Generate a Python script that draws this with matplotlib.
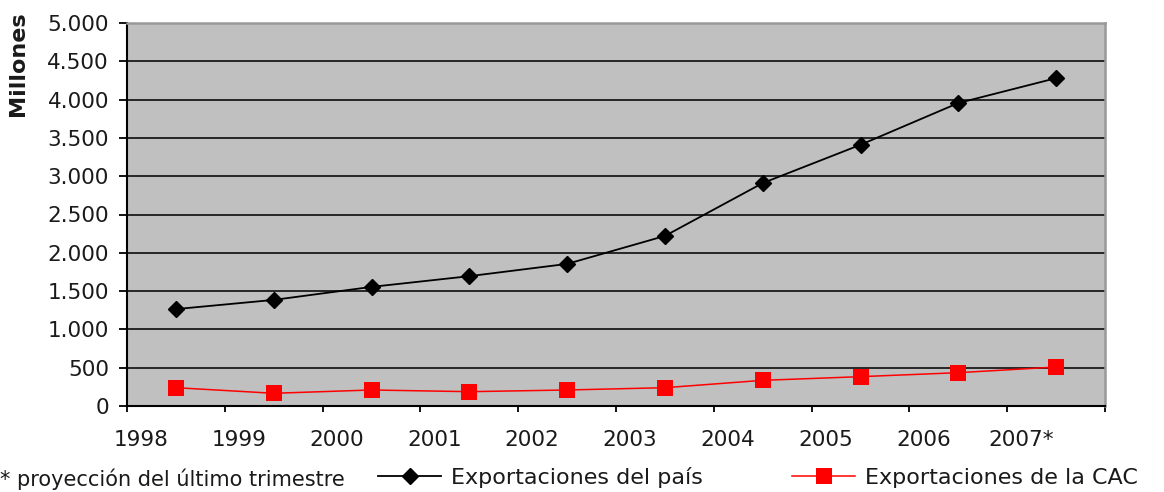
import matplotlib
matplotlib.use("Agg")
import matplotlib.pyplot as plt
from matplotlib.ticker import FuncFormatter, FixedLocator
from matplotlib.lines import Line2D

years = ["1998", "1999", "2000", "2001", "2002", "2003", "2004", "2005", "2006", "2007*"]
export_pais = [1265, 1385, 1555, 1695, 1855, 2220, 2910, 3410, 3955, 4280]
export_cac = [239, 166, 209, 187, 209, 239, 335, 383, 435, 509]
yticks = list(range(0, 5001, 500))

plt.rcParams['font.family'] = ['DejaVu Sans']
FS = 15.5

fig = plt.figure(figsize=(11.64, 4.92), dpi=100)
ax = fig.add_axes([127/1164, 1-406/492, (1105-127)/1164, (406-23)/492])
ax.set_facecolor('#C0C0C0')

xs = [i + 0.5 for i in range(len(years))]
ax.plot(xs, export_pais, color='black', lw=1.3, marker='D', ms=8.5,
        mfc='black', mec='black', zorder=4)
ax.plot(xs, export_cac, color='#FF0000', lw=1.1, marker='s', ms=11,
        mfc='#FF0000', mec='#FF0000', mew=0, zorder=4)

ax.set_xlim(0, len(years))
ax.set_ylim(0, 5000)
ax.set_yticks(yticks)
ax.yaxis.set_major_formatter(FuncFormatter(lambda v, p: f"{int(v):,}".replace(",", ".")))
ax.grid(axis='y', color='#1a1a1a', lw=1.3, zorder=1)
ax.set_axisbelow(True)

ax.set_xticks(range(len(years) + 1))
ax.set_xticklabels([])
ax.xaxis.set_minor_locator(FixedLocator([i + 0.143 for i in range(len(years))]))
ax.set_xticklabels(years, minor=True)
ax.tick_params(axis='x', which='minor', length=0, pad=17, labelsize=FS, colors='#1a1a1a')
ax.tick_params(axis='x', which='major', length=4.5, width=1.3, direction='out', color='black')
ax.tick_params(axis='y', length=6, width=1.3, direction='out', pad=7, labelsize=FS,
               colors='#1a1a1a')
ax.tick_params(axis='y', color='black')

for s in ['left', 'bottom']:
    ax.spines[s].set_color('black')
    ax.spines[s].set_linewidth(1.5)
for s in ['top', 'right']:
    ax.spines[s].set_color('#999999')
    ax.spines[s].set_linewidth(1.8)

fig.text(18/1164, 1-64/492, "Millones", rotation=90, ha='center', va='center',
         fontsize=16, fontweight='bold', color='#1a1a1a')

fig.text(0.0, 1-486/492, "* proyección del último trimestre", ha='left', va='baseline',
         fontsize=15, color='#1a1a1a')

handles = [
    Line2D([], [], color='black', lw=1.3, marker='D', ms=8.5, mfc='black', mec='black'),
    Line2D([], [], color='#FF0000', lw=1.1, marker='s', ms=11, mfc='#FF0000', mew=0),
]
labels = ["Exportaciones del país", "Exportaciones de la CAC"]
leg = fig.legend(handles, labels, ncol=2, loc='center left',
                 bbox_to_anchor=(378/1164, 1-477/492), frameon=False, fontsize=16,
                 handlelength=2.85, handletextpad=0.45, columnspacing=4.0,
                 borderpad=0, borderaxespad=0)
for t in leg.get_texts():
    t.set_color('#1a1a1a')

fig.savefig("out.png", dpi=100)
